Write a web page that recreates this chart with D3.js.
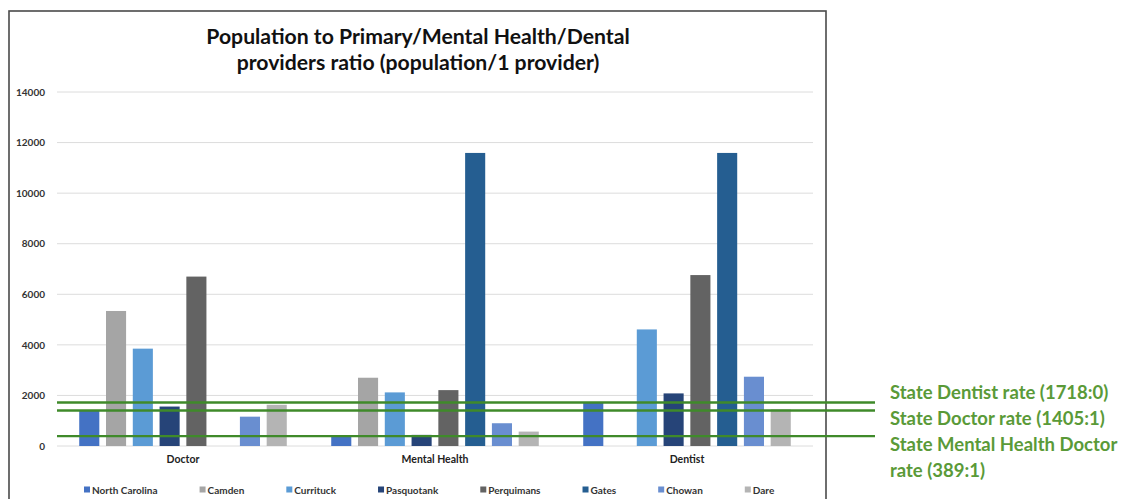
<!DOCTYPE html>
<html><head><meta charset="utf-8">
<script src="https://cdn.jsdelivr.net/npm/d3@7"></script>
<style>
html,body{margin:0;padding:0;background:#fff;}
svg{display:block;font-family:Lato, "Open Sans", sans-serif;}
</style></head>
<body>
<svg id="chart" width="1127" height="499"></svg>
<script>
const categories = ["Doctor", "Mental Health", "Dentist"];
const seriesNames = ["North Carolina","Camden","Currituck","Pasquotank","Perquimans","Gates","Chowan","Dare"];
const seriesColors = ["#4472c4","#a5a5a5","#5b9bd5","#264478","#636363","#255e91","#698ed0","#b4b4b4"];
// values per series: [Doctor, Mental Health, Dentist]  (null = no bar)
const northCarolina = [1400, 380, 1718];
const camden       = [5340, 2700, null];
const currituck    = [3850, 2120, 4610];
const pasquotank   = [1560, 440, 2080];
const perquimans   = [6700, 2210, 6760];
const gates        = [null, 11590, 11590];
const chowan       = [1160, 900, 2740];
const dare         = [1630, 570, 1450];
const yTicks = [0, 2000, 4000, 6000, 8000, 10000, 12000, 14000];
const stateRates = [1718, 1405, 389];
const stateLabels = [["State Dentist rate (1718:0)"], ["State Doctor rate (1405:1)"], ["State Mental Health Doctor", "rate (389:1)"]];
const titleLines = ["Population to Primary/Mental Health/Dental", "providers ratio (population/1 provider)"];

const seriesValues = [northCarolina, camden, currituck, pasquotank, perquimans, gates, chowan, dare];

const svg = d3.select("#chart");

// frame
svg.append("rect").attr("x", 9).attr("y", 11).attr("width", 817).attr("height", 520)
  .attr("fill", "none").attr("stroke", "#4a4a4a").attr("stroke-width", 1.6);

const x0 = d3.scaleBand().domain(categories).range([57, 813]);
const x1 = d3.scaleBand().domain(seriesNames).range([0, x0.bandwidth()]).paddingInner(0.25).paddingOuter(0.83);
const y = d3.scaleLinear().domain([0, 14000]).range([446, 92]);

// gridlines
svg.append("g").selectAll("line").data(yTicks).join("line")
  .attr("x1", 57).attr("x2", 813)
  .attr("y1", d => y(d)).attr("y2", d => y(d))
  .attr("stroke", "#dcdcdc").attr("stroke-width", 1);

// y axis labels
const yAxis = d3.axisLeft(y).tickValues(yTicks).tickSize(0).tickPadding(0).tickFormat(d3.format("d"));
const ya = svg.append("g").attr("transform", "translate(45,0)").call(yAxis);
ya.select(".domain").remove();
ya.selectAll("text").attr("font-size", 10).attr("font-weight", "bold").attr("fill", "#333")
  .attr("font-family", "Lato, sans-serif");

// x axis labels
const xAxis = d3.axisBottom(x0).tickSize(0).tickPadding(0);
const xa = svg.append("g").attr("transform", "translate(0,456)").call(xAxis);
xa.select(".domain").remove();
xa.selectAll("text").attr("font-size", 10.5).attr("font-weight", "bold").attr("fill", "#222")
  .attr("font-family", "Lato, sans-serif");

// bars
const barData = [];
seriesNames.forEach((s, i) => {
  categories.forEach((c, j) => {
    const v = seriesValues[i][j];
    if (v !== null) barData.push({s, c, v, color: seriesColors[i]});
  });
});
svg.append("g").selectAll("rect").data(barData).join("rect")
  .attr("x", d => x0(d.c) + x1(d.s))
  .attr("width", x1.bandwidth())
  .attr("y", d => y(d.v))
  .attr("height", d => y(0) - y(d.v))
  .attr("fill", d => d.color);

// state rate lines
svg.append("g").selectAll("line").data(stateRates).join("line")
  .attr("x1", 57).attr("x2", 875)
  .attr("y1", d => y(d)).attr("y2", d => y(d))
  .attr("stroke", "#3f8a2a").attr("stroke-width", 2.4);

// state labels
const lab = svg.append("text").attr("font-size", 18.5).attr("font-weight", "bold")
  .attr("fill", "#5a9a38").attr("font-family", "Lato, sans-serif");
const flat = stateLabels.flat();
flat.forEach((t, i) => {
  lab.append("tspan").attr("x", 890).attr("y", 399 + i * 26).text(t);
});

// title
const title = svg.append("text").attr("text-anchor", "middle").attr("font-size", 21.2)
  .attr("font-weight", "bold").attr("fill", "#111").attr("font-family", "Lato, sans-serif");
titleLines.forEach((t, i) => {
  title.append("tspan").attr("x", 418).attr("y", 44 + i * 26).text(t);
});

// legend
const lg = svg.append("g").attr("transform", "translate(0,490)");
let cx = 84;
seriesNames.forEach((s, i) => {
  const g = lg.append("g").attr("transform", `translate(${cx},0)`);
  g.append("rect").attr("x", 0).attr("y", -3.5).attr("width", 6).attr("height", 6).attr("fill", seriesColors[i]);
  const t = g.append("text").attr("x", 8).attr("y", 3.5).attr("font-size", 10).attr("font-weight", "bold")
    .attr("fill", "#333").attr("font-family", "Lato, sans-serif").text(s);
  cx += 8 + t.node().getComputedTextLength() + 42;
});
</script>
</body></html>
